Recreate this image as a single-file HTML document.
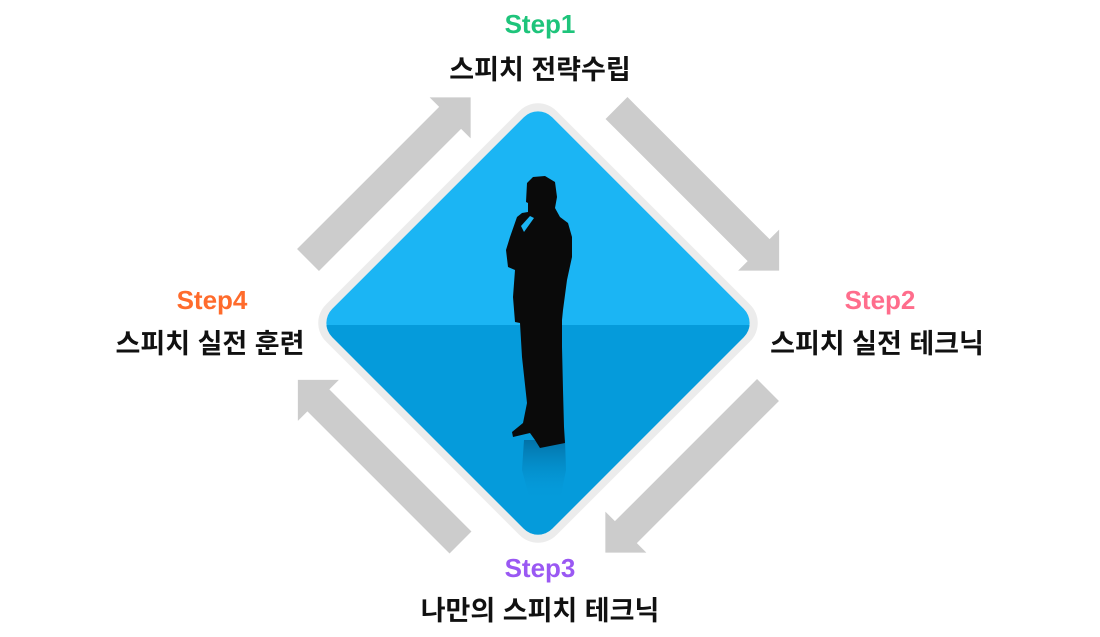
<!DOCTYPE html>
<html><head><meta charset="utf-8"><style>
html,body{margin:0;padding:0;background:#fff;width:1100px;height:637px;overflow:hidden}
svg{display:block}
text{font-family:"Liberation Sans","Noto Sans CJK KR",sans-serif;font-weight:bold;text-anchor:middle}
</style></head><body>
<svg width="1100" height="637" viewBox="0 0 1100 637">
<defs>
<clipPath id="lo"><rect x="0" y="325" width="1100" height="400"/></clipPath>
<linearGradient id="refl" x1="0" y1="0" x2="0" y2="1"><stop offset="0" stop-color="#02679a" stop-opacity="0.8"/><stop offset="1" stop-color="#059ad9" stop-opacity="0"/></linearGradient>
<g id="arr"><polygon points="0,-15.5 201,-15.5 201,-29 230,0 201,29 201,15.5 0,15.5" fill="#cccccc"/></g>
</defs>
<use href="#arr" transform="translate(308,260) rotate(-45)"/>
<use href="#arr" transform="translate(616.5,108) rotate(45)"/>
<use href="#arr" transform="translate(768,390) rotate(135)"/>
<use href="#arr" transform="translate(460.5,542.5) rotate(-135)"/>
<g transform="translate(538,323) rotate(45)">
<rect x="-163" y="-163" width="326" height="326" rx="26" fill="#ececec"/>
<rect x="-155.5" y="-155.5" width="311" height="311" rx="20" fill="#1bb5f4"/>
</g>
<g clip-path="url(#lo)"><g transform="translate(538,323) rotate(45)"><rect x="-155.5" y="-155.5" width="311" height="311" rx="20" fill="#059bdb"/></g></g>
<polygon points="524,440 565,440 566,470 560,500 530,500 522,470" fill="url(#refl)"/>
<polygon fill="#0a0a0a" points="527,183 533,177 545,176 555,182 557,197 555,208 560,217 568,223 572,237 572,257 567,280 563,310 562,320 562,347 563,390 564,427 565,443 540,448 535,440 530,433 513,437 512,432 523,423 527,403 522,357 520,323 515,322 513,297 515,270 508,267 506,250 510,237 517,217 522,213 528,212 528,203 526,202"/>
<polygon fill="#1bb5f4" points="521,226 530,216 534,218 524,232"/>
<text x="540" y="33" font-size="26" fill="#1ec47b">Step1</text>
<text x="540" y="79" font-size="27" fill="#111">스피치 전략수립</text>
<text x="880" y="309" font-size="26" fill="#ff6d8c">Step2</text>
<text x="877" y="353" font-size="27" fill="#111">스피치 실전 테크닉</text>
<text x="540" y="577" font-size="26" fill="#9a58f3">Step3</text>
<text x="540" y="620" font-size="27" fill="#111">나만의 스피치 테크닉</text>
<text x="212" y="309" font-size="26" fill="#ff6b2c">Step4</text>
<text x="210" y="353" font-size="27" fill="#111">스피치 실전 훈련</text>
</svg>
</body></html>
